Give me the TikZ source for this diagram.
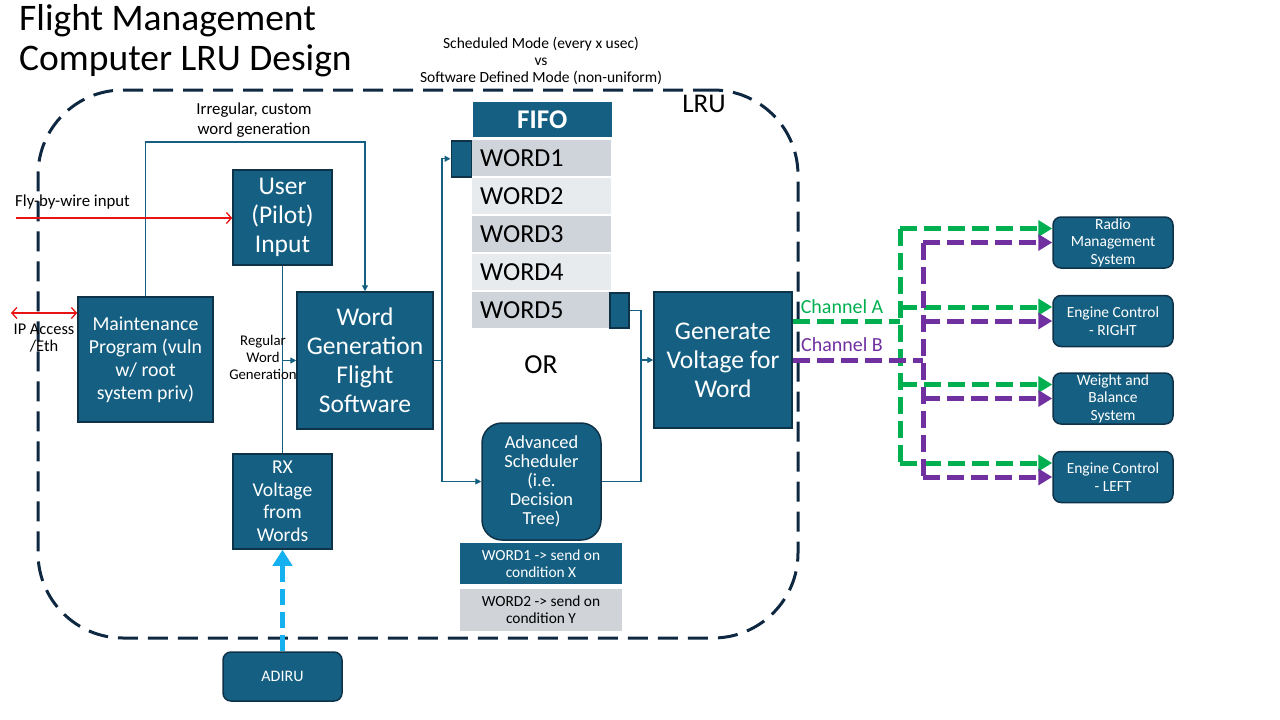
\documentclass[tikz,border=0pt]{standalone}
\usepackage{fontspec}
\setmainfont{Carlito}
\usetikzlibrary{arrows.meta, positioning, calc}
\definecolor{boxblue}{RGB}{21, 96, 130}
\definecolor{boxline}{RGB}{14, 50, 72}
\definecolor{lrunavy}{RGB}{14, 40, 65}
\definecolor{fifodark}{RGB}{207, 212, 218}
\definecolor{fifolight}{RGB}{232, 235, 238}
\definecolor{condgray}{RGB}{208, 212, 217}
\definecolor{chgreen}{RGB}{0, 176, 80}
\definecolor{chpurple}{RGB}{112, 48, 160}
\definecolor{adiblue}{RGB}{20, 176, 240}
\definecolor{wirered}{RGB}{232, 20, 20}
\newcommand{\pxfont}[2]{\fontsize{#1}{#2}\selectfont}

\begin{document}
\begin{tikzpicture}[x=1pt, y=-1pt,
  blk/.style={draw=boxline, line width=1.5pt, fill=boxblue, text=white, align=center, inner sep=1pt},
  sysbox/.style={blk, rounded corners=8pt, minimum width=120pt, minimum height=51pt, font=\pxfont{15.5}{17.5}},
  fiforow/.style={minimum height=36pt, text width=123pt, inner xsep=8pt, inner ysep=0pt, align=left, font=\pxfont{26}{29}},
  conn/.style={draw=boxblue, line width=1.3pt},
  flowtip/.style={-{Triangle[length=6pt, width=6pt]}},
  wire/.style={draw=wirered, line width=1.3pt},
  barb/.style={-{Straight Barb[length=5pt, width=11pt]}},
  chanA/.style={draw=chgreen, line width=5pt, dash pattern=on 17pt off 7pt},
  chanB/.style={draw=chpurple, line width=5pt, dash pattern=on 17pt off 7pt},
  bigtip/.style={-{Triangle[length=14pt, width=16pt]}},
  lbl/.style={align=center, inner sep=0pt}
]
\useasboundingbox (0,0) rectangle (1280,720);

% ===== LRU boundary =====
\node[draw=lrunavy, line width=3pt, dash pattern=on 20pt off 10pt, rounded corners=85pt,
  minimum width=760pt, minimum height=548pt, inner sep=0pt] (lru) at (418,364) {};
\node[font=\pxfont{27}{30}] (lrulbl) at (704,104) {LRU};

% Title and mode note
\node[anchor=north west, align=left, inner sep=0pt, font=\pxfont{37.5}{40}] (title) at (19,4) {Flight Management\\Computer LRU Design};
\node[lbl, font=\pxfont{15.5}{17}] (modes) at (541,61) {Scheduled Mode (every x usec)\\vs\\Software Defined Mode (non-uniform)};

% ===== Inside the LRU =====
\node[blk, minimum width=99pt, minimum height=95pt, font=\pxfont{25.5}{29}] (user) at (282.5,217.5) {User\\(Pilot)\\Input};
\node[blk, minimum width=135pt, minimum height=125pt, font=\pxfont{19.8}{23}] (maint) at (145.5,359.5) {Maintenance\\Program (vuln\\w/ root\\system priv)};
\node[blk, minimum width=136pt, minimum height=137pt, font=\pxfont{25.5}{29}] (wordgen) at (365,360.5) {Word\\Generation\\Flight\\Software};
\node[blk, minimum width=99pt, minimum height=95pt, font=\pxfont{19.6}{22.5}] (rx) at (282.5,501.5) {RX\\Voltage\\from\\Words};
\node[blk, minimum width=138pt, minimum height=136pt, font=\pxfont{25.5}{29}] (gen) at (723,360) {Generate\\Voltage for\\Word};

% FIFO
\node[blk, draw=none, minimum width=139pt, minimum height=35pt, font=\bfseries\pxfont{27}{29}, anchor=north west] (fifo) at (472,101) {FIFO};
\foreach \i/\c in {1/fifodark, 2/fifolight, 3/fifodark, 4/fifolight, 5/fifodark}
  \node[fiforow, fill=\c, anchor=north west] (w\i) at (472,{140+38*(\i-1)}) {WORD\i};
\node[blk, minimum width=20pt, minimum height=36pt, inner sep=0pt, anchor=north east] (wsq1) at (w1.north west) {};
\node[blk, minimum width=19pt, minimum height=35pt, inner sep=0pt, anchor=north west] (wsq5) at ([xshift=-2pt]w5.north east) {};
\node[font=\pxfont{27.5}{30}] (orlbl) at (541,365) {OR};

% Scheduler
\node[blk, rounded corners=20pt, minimum width=119pt, minimum height=117pt, font=\pxfont{18.4}{19}] (sched) at (541.5,481.5) {Advanced\\Scheduler\\(i.e.\\Decision\\Tree)};
\node[blk, draw=none, minimum width=162pt, minimum height=41pt, font=\pxfont{15.4}{17}] (cond1) at (541,563.5) {WORD1 -> send on\\condition X};
\node[blk, draw=none, fill=condgray, text=black, minimum width=162pt, minimum height=42pt, font=\pxfont{15.4}{17}] (cond2) at (541,610) {WORD2 -> send on\\condition Y};

% Outside units
\node[blk, rounded corners=8pt, minimum width=119pt, minimum height=49pt, font=\pxfont{16}{18}] (adiru) at (282.5,676.5) {ADIRU};
\node[sysbox] (radio) at (1113,242.5) {Radio\\Management\\System};
\node[sysbox] (engR) at (1113,321) {Engine Control\\- RIGHT};
\node[sysbox] (wb) at (1113,398.5) {Weight and\\Balance\\System};
\node[sysbox] (engL) at (1113,477) {Engine Control\\- LEFT};

% ===== Thin connectors =====
\coordinate (irr) at (254,142);
\draw[conn, flowtip] (maint.north) |- (irr) -| (wordgen.north);
\node[lbl, font=\pxfont{16.8}{20}, anchor=south] (irrlbl) at ([yshift=4pt]irr) {Irregular, custom\\word generation};

\coordinate (regj) at (user.south |- wordgen.west);
\draw[conn] (user.south) -- (rx.north);
\draw[conn, flowtip] (regj) -- (wordgen.west);
\node[lbl, font=\pxfont{14.8}{17}] (reglbl) at (263,357) {Regular\\Word\\Generation};

\coordinate (split) at (442,360.5);
\draw[conn] (wordgen.east) -- (split);
\draw[conn, flowtip] (split) |- (wsq1.west);
\draw[conn, flowtip] (split) |- (sched.west);

\coordinate (merge) at (641,360);
\draw[conn] (wsq5.east) -| (merge);
\draw[conn] (sched.east) -| (merge);
\draw[conn, flowtip] (merge) -- (gen.west);

% Red inputs
\coordinate (fbw) at (16,218);
\draw[wire, barb] (fbw) -- (fbw -| user.west);
\node[anchor=west, inner sep=0pt, font=\pxfont{16.8}{19}] (fbwlbl) at (15,202) {Fly-by-wire input};
\coordinate (ipin) at (11,313);
\draw[wire, {Straight Barb[length=5pt, width=11pt]}-{Straight Barb[length=5pt, width=11pt]}] (ipin) -- (ipin -| maint.west);
\node[lbl, font=\pxfont{16.4}{17}] (iplbl) at (44,338) {IP Access\\/Eth};

% ADIRU feed
\draw[draw=adiblue, line width=5pt, dash pattern=on 16pt off 7pt, -{Triangle[length=16pt, width=19pt]}] (adiru.north) -- (rx.south);

% ===== Channels =====
\coordinate (busA) at (900,321);
\coordinate (busB) at (923,360);
\draw[chanA] (gen.east |- busA) -- (busA);
\draw[chanA] ([yshift=14pt]radio.west -| busA) -- ([yshift=14pt]engL.west -| busA);
\foreach \b in {radio, engR, wb, engL}
  \draw[chanA, bigtip] ([yshift=14pt]\b.west -| busA) -- ([yshift=14pt]\b.west);
\draw[chanB] (gen.east |- busB) -- (busB);
\draw[chanB] (radio.west -| busB) -- (engL.west -| busB);
\foreach \b in {radio, engR, wb, engL}
  \draw[chanB, bigtip] (\b.west -| busB) -- (\b.west);
\node[text=chgreen, font=\pxfont{20}{22}] (chalbl) at (842,307) {Channel A};
\node[text=chpurple, font=\pxfont{20}{22}] (chblbl) at (842,345) {Channel B};

\end{tikzpicture}
\end{document}
